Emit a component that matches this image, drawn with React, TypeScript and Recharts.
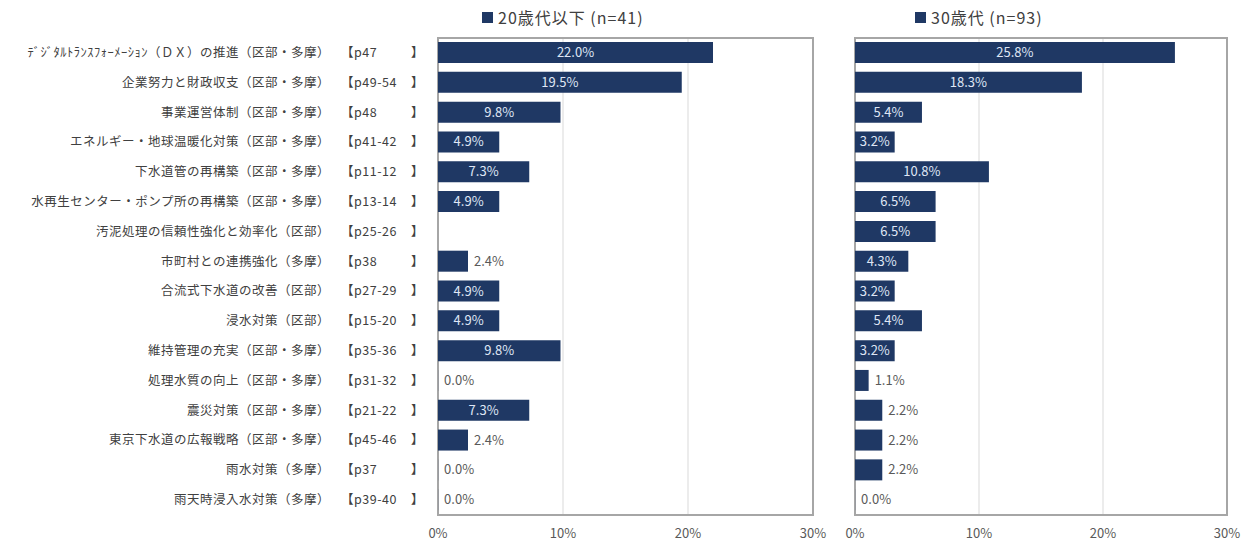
import { BarChart, Bar, XAxis, YAxis, CartesianGrid, Legend, LabelList, ReferenceArea } from 'recharts'

const items = [
  'ﾃﾞｼﾞﾀﾙﾄﾗﾝｽﾌｫｰﾒｰｼｮﾝ（ＤＸ）の推進（区部・多摩）',
  '企業努力と財政収支（区部・多摩）',
  '事業運営体制（区部・多摩）',
  'エネルギー・地球温暖化対策（区部・多摩）',
  '下水道管の再構築（区部・多摩）',
  '水再生センター・ポンプ所の再構築（区部・多摩）',
  '汚泥処理の信頼性強化と効率化（区部）',
  '市町村との連携強化（多摩）',
  '合流式下水道の改善（区部）',
  '浸水対策（区部）',
  '維持管理の充実（区部・多摩）',
  '処理水質の向上（区部・多摩）',
  '震災対策（区部・多摩）',
  '東京下水道の広報戦略（区部・多摩）',
  '雨水対策（多摩）',
  '雨天時浸入水対策（多摩）',
]
const pages = [
  'p47', 'p49-54', 'p48', 'p41-42', 'p11-12', 'p13-14', 'p25-26', 'p38',
  'p27-29', 'p15-20', 'p35-36', 'p31-32', 'p21-22', 'p45-46', 'p37', 'p39-40',
]
const under20 = [22.0, 19.5, 9.8, 4.9, 7.3, 4.9, null, 2.4, 4.9, 4.9, 9.8, 0.0, 7.3, 2.4, 0.0, 0.0]
const thirties = [25.8, 18.3, 5.4, 3.2, 10.8, 6.5, 6.5, 4.3, 3.2, 5.4, 3.2, 1.1, 2.2, 2.2, 2.2, 0.0]
const xTicks = [0, 10, 20, 30]

const rows = items.map((name, i) => ({ name, page: pages[i], u20: under20[i], t30: thirties[i] }))

const NAVY = '#1f3864'
const FONT = '"Noto Sans CJK JP", "Noto Sans", sans-serif'

const RowTick = (props: any) => {
  const { x, y, payload, index } = props
  const page = rows[index]?.page ?? ''
  return (
    <g fontSize={12.5} fill="#404040" fontFamily={FONT} letterSpacing={0.5}>
      <text x={x - 100} y={y} dy={4} textAnchor="end">{payload.value}</text>
      <text x={x - 89} y={y} dy={4} textAnchor="start">{'【' + page}</text>
      <text x={x - 6} y={y} dy={4} textAnchor="end">】</text>
    </g>
  )
}

const ValueLabel = (props: any) => {
  const { x, y, width, height, value } = props
  if (value === null || value === undefined) return null
  const txt = Number(value).toFixed(1) + '%'
  if (value >= 3) {
    return (
      <text x={x + width / 2} y={y + height / 2} dy={4.5} textAnchor="middle" fontSize={13} fill="#dfe6f5" fontFamily={FONT}>
        {txt}
      </text>
    )
  }
  return (
    <text x={x + width + 6} y={y + height / 2} dy={4.5} textAnchor="start" fontSize={13} fill="#595959" fontFamily={FONT}>
      {txt}
    </text>
  )
}

const legendContent = (label: string, pad: number) => () => (
  <div style={{ height: 24, display: 'flex', alignItems: 'center', paddingLeft: pad, fontFamily: FONT, fontSize: 16, letterSpacing: 1, color: '#404040' }}>
    <span style={{ display: 'inline-block', width: 11, height: 11, background: NAVY, marginRight: 5 }} />
    {label}
  </div>
)

function Panel({ dataKey, label, width, marginLeft, marginRight, showY, legendPad }: any) {
  return (
    <BarChart
      width={width}
      height={541}
      data={rows}
      layout="vertical"
      margin={{ top: 6, right: marginRight, bottom: 9, left: marginLeft }}
      barSize={21}
    >
      <Legend verticalAlign="top" align="left" content={legendContent(label, legendPad)} wrapperStyle={{ top: -3 }} />
      <CartesianGrid horizontal={false} stroke="#d9d9d9" />
      <XAxis
        type="number"
        domain={[0, 30]}
        ticks={xTicks}
        tickFormatter={(v: number) => v + '%'}
        axisLine={false}
        tickLine={false}
        tickMargin={8}
        height={25}
        tick={{ fontSize: 13, fill: '#595959', fontFamily: FONT }}
      />
      <YAxis
        type="category"
        dataKey="name"
        width={showY ? 430 : 0}
        hide={!showY}
        axisLine={false}
        tickLine={false}
        interval={0}
        tick={<RowTick />}
      />
      <Bar dataKey={dataKey} fill={NAVY} isAnimationActive={false} minPointSize={0.1}>
        <LabelList dataKey={dataKey} content={<ValueLabel />} />
      </Bar>
      <ReferenceArea x1={0} x2={30} fill="none" stroke="#a6a6a6" strokeWidth={2} />
    </BarChart>
  )
}

export default function App() {
  return (
    <div style={{ display: 'flex', width: 1250, height: 541, background: '#fff' }}>
      <Panel dataKey="u20" label="20歳代以下 (n=41)" width={830} marginLeft={0} marginRight={25} showY legendPad={474} />
      <Panel dataKey="t30" label="30歳代 (n=93)" width={420} marginLeft={17} marginRight={31} showY={false} legendPad={60} />
    </div>
  )
}
